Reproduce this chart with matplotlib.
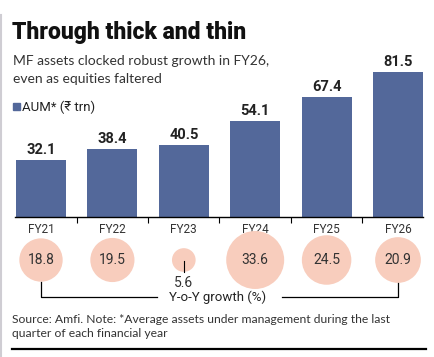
import matplotlib.pyplot as plt
from matplotlib import font_manager
import numpy as np

years = ['FY21', 'FY22', 'FY23', 'FY24', 'FY25', 'FY26']
aum = [32.1, 38.4, 40.5, 54.1, 67.4, 81.5]
growth = [18.8, 19.5, 5.6, 33.6, 24.5, 20.9]

names = {f.name for f in font_manager.fontManager.ttflist}
narrow = 'Liberation Sans Narrow' if 'Liberation Sans Narrow' in names else 'Roboto'
body = 'Lato'

W, H = 435, 357
fig = plt.figure(figsize=(W / 100, H / 100), dpi=100)
fig.patch.set_facecolor('white')


def rect(left, top, width, height):
    return [left / W, 1 - (top + height) / H, width / W, height / H]


bar_color = '#53689a'
bubble_color = '#f8cdbd'
text_color = '#333333'

# pixel layout of the category axis
x_left, x_right, c0, step = 15, 423, 41, 71.4
xlim = ((x_left - c0) / step, (x_right - c0) / step)
x = np.arange(len(years))

# bar panel
ax = fig.add_axes(rect(x_left, 60, x_right - x_left, 157))
ax.bar(x, aum, width=0.70, color=bar_color)
ax.set_xlim(*xlim)
ax.set_ylim(0, 157 / 1.776)
for s in ['top', 'right', 'left']:
    ax.spines[s].set_visible(False)
ax.spines['bottom'].set_color('black')
ax.spines['bottom'].set_linewidth(1.0)
ax.set_yticks([])
ax.set_xticks(x)
ax.set_xticklabels(years, fontfamily=narrow, fontsize=8.5, color=text_color)
ax.tick_params(axis='x', which='major', length=0, pad=4)
ax.set_xticks(x[:-1] + 0.5, minor=True)
ax.tick_params(axis='x', which='minor', length=4, width=0.8, color='black')
for xi, v in zip(x, aum):
    ax.annotate(f'{v}', (xi, v), xytext=(0, 3), textcoords='offset pixels',
                ha='center', va='bottom', fontfamily=narrow, fontweight='bold',
                fontsize=10.5, color='#222222')

# bubble panel (y in pixels from top)
bx = fig.add_axes(rect(x_left, 236, x_right - x_left, 70))
bx.set_xlim(*xlim)
bx.set_ylim(306, 236)
bx.axis('off')
cy = 260
sizes = [51.84 * g for g in growth]
bx.scatter(x, [cy] * len(x), s=sizes, color=bubble_color, linewidths=0, clip_on=False)
for xi, g in zip(x, growth):
    r = 5 * np.sqrt(g)
    if r < 15:
        bx.plot([xi, xi], [cy + 1, cy + r], color='black', lw=0.8, clip_on=False)
        bx.text(xi, cy + r + 11, f'{g}', ha='center', va='center', fontfamily=narrow,
                fontsize=10, color=text_color)
    else:
        bx.text(xi, cy, f'{g}', ha='center', va='center', fontfamily=narrow,
                fontsize=10, color=text_color)

# bracket
r0 = 5 * np.sqrt(growth[0])
r5 = 5 * np.sqrt(growth[-1])
mid = (x[0] + x[-1]) / 2
bx.plot([x[0], x[0], mid - 0.87], [cy + r0, 297, 297], color='black', lw=0.9, clip_on=False)
bx.plot([mid + 0.87, x[-1], x[-1]], [297, 297, cy + r5], color='black', lw=0.9, clip_on=False)
bx.text(mid - 0.03, 297, 'Y-o-Y growth (%)', ha='center', va='center', fontfamily=narrow,
        fontsize=9.5, color='#222222')

# titles
fig.text(12 / W, 1 - 39 / H, 'Through thick and thin', fontfamily=narrow, fontweight='heavy',
         fontsize=16.5, color='#111111', va='baseline')
fig.text(13 / W, 1 - 65 / H, 'MF assets clocked robust growth in FY26,', fontfamily=body,
         fontsize=10, color=text_color, va='baseline')
fig.text(13 / W, 1 - 83 / H, 'even as equities faltered', fontfamily=body,
         fontsize=10, color=text_color, va='baseline')

# legend
fig.patches.append(plt.Rectangle((13 / W, 1 - 110 / H), 7 / W, 7 / H, transform=fig.transFigure,
                                 color=bar_color))
fig.text(22 / W, 1 - 111 / H, 'AUM* (₹ trn)', fontfamily=[narrow, 'DejaVu Sans'],
         fontsize=9.5, color='#222222', va='baseline')

# source
fig.text(12 / W, 1 - 323 / H, 'Source: Amfi. Note: *Average assets under management during the last',
         fontfamily=body, fontsize=8.75, color=text_color, va='baseline')
fig.text(12 / W, 1 - 337 / H, 'quarter of each financial year',
         fontfamily=body, fontsize=8.75, color=text_color, va='baseline')

# bottom rule and left edge strip
fig.add_artist(plt.Line2D([12 / W, 426 / W], [1 - 349 / H] * 2, transform=fig.transFigure,
                          color='black', lw=1.6))
fig.add_artist(plt.Line2D([1 / W, 1 / W], [1 - 15 / H, 0], transform=fig.transFigure,
                          color='#cfcdd3', lw=1.5))

fig.savefig('out.png', dpi=100)
